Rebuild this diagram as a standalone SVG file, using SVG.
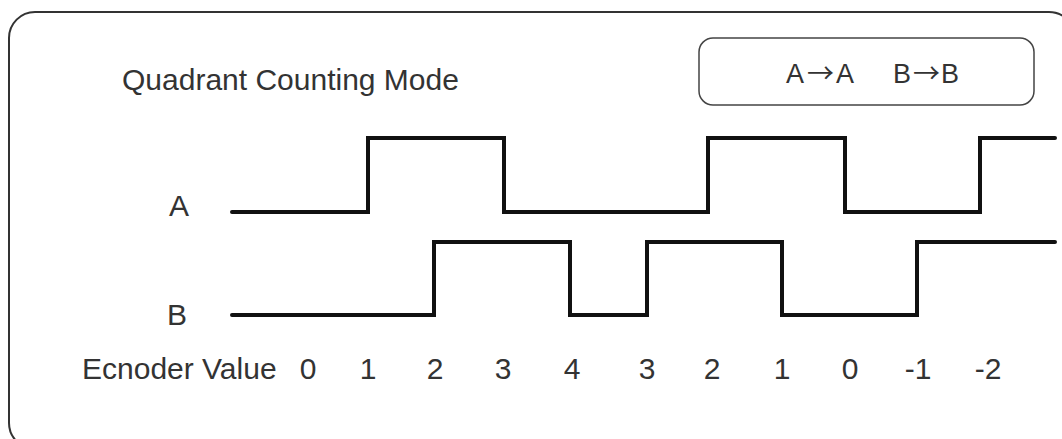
<svg xmlns="http://www.w3.org/2000/svg" width="1062" height="439" viewBox="0 0 1062 439">
<style>
text{font-family:"Liberation Sans",Arial,sans-serif;fill:#333;}
.lbl{font-size:30px;}
.num{font-size:30px;text-anchor:middle;}
.leg{font-size:27px;}
.arr{font-family:"Noto Sans CJK JP","DejaVu Sans",sans-serif;}
.wave{fill:none;stroke:#111;stroke-width:4;stroke-linejoin:miter;stroke-linecap:round;}
</style>
<rect width="1062" height="439" fill="#fff"/>
<g id="frame">
<rect x="9" y="12" width="1066" height="437" rx="26" fill="none" stroke="#333" stroke-width="2"/>
</g>
<g id="title">
<text class="lbl" x="122" y="90">Quadrant Counting Mode</text>
</g>
<g id="legend">
<rect x="699" y="38" width="335" height="67" rx="14" fill="none" stroke="#444" stroke-width="1.5"/>
<text class="leg" y="83"><tspan x="786">A</tspan><tspan class="arr" x="807">→</tspan><tspan x="836">A</tspan></text>
<text class="leg" y="83"><tspan x="893">B</tspan><tspan class="arr" x="913">→</tspan><tspan x="941">B</tspan></text>
</g>
<g id="labelA"><text class="lbl" x="169" y="216">A</text></g>
<g id="labelB"><text class="lbl" x="167" y="325">B</text></g>
<g id="connectors">
<path id="waveA" class="wave" d="M232 212H368V138H504V212H708V138H845V212H980V138H1055"/>
<path id="waveB" class="wave" d="M232 315H434V242H570V315H647V242H782V315H917V242H1055"/>
</g>
<g id="values">
<text class="lbl" x="82" y="379">Ecnoder Value</text>
<text class="num" x="308" y="379">0</text>
<text class="num" x="368" y="379">1</text>
<text class="num" x="435" y="379">2</text>
<text class="num" x="503" y="379">3</text>
<text class="num" x="572" y="379">4</text>
<text class="num" x="647" y="379">3</text>
<text class="num" x="712" y="379">2</text>
<text class="num" x="782" y="379">1</text>
<text class="num" x="850" y="379">0</text>
<text class="num" x="918" y="379">-1</text>
<text class="num" x="988" y="379">-2</text>
</g>
</svg>
